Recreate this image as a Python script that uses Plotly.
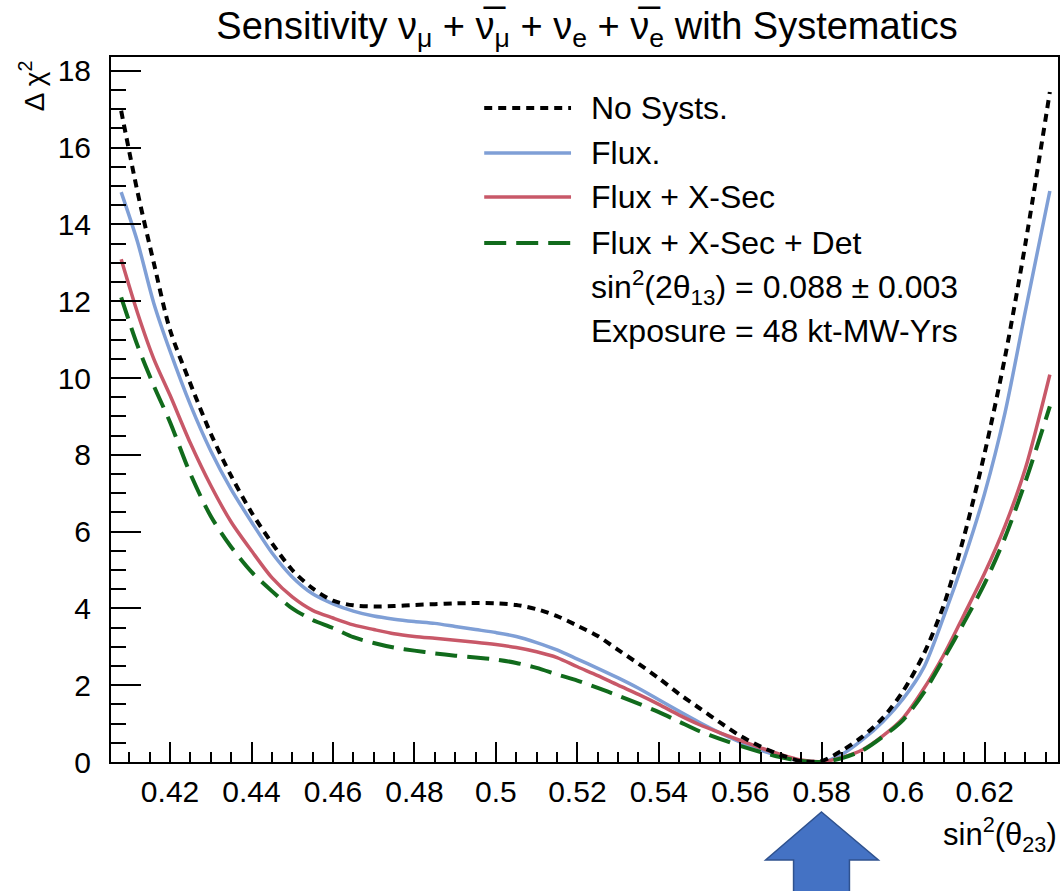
import plotly.graph_objects as go

# ---------------- data ----------------
sin2_theta23 = [0.408, 0.412, 0.416, 0.42, 0.425, 0.43, 0.435, 0.44, 0.445, 0.45,
                0.455, 0.46, 0.465, 0.47, 0.475, 0.48, 0.485, 0.49, 0.495, 0.5,
                0.505, 0.51, 0.515, 0.52, 0.525, 0.53, 0.535, 0.54, 0.545, 0.55,
                0.555, 0.56, 0.565, 0.57, 0.575, 0.58, 0.585, 0.59, 0.595, 0.6,
                0.605, 0.61, 0.615, 0.62, 0.625, 0.63, 0.636]

no_systs = [16.96, 14.85, 13.0, 11.25, 9.85, 8.55, 7.45, 6.5, 5.7, 5.0,
            4.52, 4.2, 4.08, 4.05, 4.06, 4.09, 4.11, 4.13, 4.14, 4.13,
            4.09, 3.98, 3.80, 3.55, 3.28, 2.92, 2.56, 2.18, 1.77, 1.40,
            1.03, 0.68, 0.40, 0.18, 0.02, 0.03, 0.30, 0.66, 1.15, 1.85,
            2.8, 4.1, 5.9, 8.05, 10.55, 13.5, 17.45]

flux = [14.84, 13.55, 11.95, 10.7, 9.3, 8.1, 7.1, 6.25, 5.45, 4.82,
        4.38, 4.12, 3.93, 3.80, 3.72, 3.66, 3.61, 3.53, 3.45, 3.37,
        3.27, 3.11, 2.92, 2.68, 2.44, 2.19, 1.92, 1.62, 1.32, 1.03,
        0.76, 0.52, 0.31, 0.15, 0.04, 0.0, 0.2, 0.58, 1.05, 1.65,
        2.45, 3.80, 5.3, 7.0, 9.1, 11.75, 14.87]

flux_xsec = [13.09, 11.7, 10.5, 9.55, 8.3, 7.2, 6.25, 5.5, 4.8, 4.3,
             3.95, 3.75, 3.57, 3.45, 3.34, 3.27, 3.22, 3.17, 3.12, 3.06,
             2.98, 2.87, 2.72, 2.48, 2.25, 2.0, 1.76, 1.5, 1.22, 0.97,
             0.76, 0.56, 0.37, 0.19, 0.05, 0.01, 0.12, 0.32, 0.68, 1.15,
             1.9, 2.8, 3.85, 4.92, 6.15, 7.65, 10.09]

flux_xsec_det = [12.1, 10.85, 9.8, 8.85, 7.5, 6.4, 5.6, 4.95, 4.45, 4.0,
                 3.7, 3.49, 3.25, 3.1, 2.98, 2.9, 2.83, 2.77, 2.72, 2.67,
                 2.58, 2.45, 2.28, 2.12, 1.93, 1.73, 1.52, 1.3, 1.05, 0.8,
                 0.6, 0.42, 0.26, 0.12, 0.03, 0.0, 0.1, 0.3, 0.66, 1.1,
                 1.8, 2.7, 3.65, 4.65, 5.85, 7.3, 9.26]

series_names = ["No Systs.", "Flux.", "Flux + X-Sec", "Flux + X-Sec + Det"]
extra_text = ["sin<sup>2</sup>(2θ<sub>13</sub>) = 0.088 ± 0.003",
              "Exposure = 48 kt-MW-Yrs"]

# ---------------- styles ----------------
FONT = "Liberation Sans, Arial, Helvetica, sans-serif"
styles = {
    "No Systs.": dict(color="#000000", width=4, dash="8px,6px"),
    "Flux.": dict(color="#7f9fd6", width=3.5, dash="solid"),
    "Flux + X-Sec": dict(color="#c85868", width=3.5, dash="solid"),
    "Flux + X-Sec + Det": dict(color="#116b1c", width=4, dash="22px,10px"),
}
series = {"No Systs.": no_systs, "Flux.": flux, "Flux + X-Sec": flux_xsec,
          "Flux + X-Sec + Det": flux_xsec_det}

W, H = 1063, 891
L, R, T, B = 111, 1060, 57, 762


def pxx(x):
    return (x - L) / (R - L)


def pxy(y):
    return (B - y) / (B - T)


fig = go.Figure()
for name in ["Flux.", "Flux + X-Sec", "Flux + X-Sec + Det", "No Systs."]:
    st = styles[name]
    fig.add_trace(go.Scatter(
        x=sin2_theta23, y=series[name], mode="lines", name=name,
        line=dict(color=st["color"], width=st["width"], dash=st["dash"],
                  shape="spline", smoothing=0.8),
        showlegend=False))

shapes = []
annotations = []

# legend (drawn manually to match ROOT style)
rows_y = [108, 153, 197, 243]
for name, yy in zip(series_names, rows_y):
    st = styles[name]
    shapes.append(dict(type="line", xref="paper", yref="paper",
                       x0=pxx(485), x1=pxx(572), y0=pxy(yy), y1=pxy(yy),
                       line=dict(color=st["color"], width=st["width"], dash=st["dash"])))
    annotations.append(dict(text=name, xref="paper", yref="paper",
                            x=pxx(590), y=pxy(yy), xanchor="left", yanchor="middle",
                            showarrow=False, font=dict(family=FONT, size=32, color="black")))
for txt, yy in zip(extra_text, [287, 331]):
    annotations.append(dict(text=txt, xref="paper", yref="paper",
                            x=pxx(590), y=pxy(yy), xanchor="left", yanchor="middle",
                            showarrow=False, font=dict(family=FONT, size=32, color="black")))

# axis titles
annotations.append(dict(text="Δ χ<sup>2</sup>", xref="paper", yref="paper",
                        x=pxx(32), y=pxy(86), xanchor="center", yanchor="middle",
                        textangle=-90, showarrow=False,
                        font=dict(family=FONT, size=28, color="black")))
annotations.append(dict(text="sin<sup>2</sup>(θ<sub>23</sub>)", xref="paper", yref="paper",
                        x=pxx(1061), y=pxy(834), xanchor="right", yanchor="middle",
                        showarrow=False, font=dict(family=FONT, size=31, color="black")))

# blue arrow below the axis
pts = [(823, 812), (880, 860), (851, 860), (851, 900), (795, 900), (795, 860), (767, 860)]
path = "M " + " L ".join(f"{pxx(a):.5f},{pxy(b):.5f}" for a, b in pts) + " Z"
shapes.append(dict(type="path", xref="paper", yref="paper", path=path,
                   fillcolor="#4472c4", line=dict(color="#2f528f", width=1.5)))

fig.update_layout(
    width=W, height=H,
    margin=dict(l=L, r=W - R, t=T, b=H - B, pad=0),
    paper_bgcolor="white", plot_bgcolor="white",
    title=dict(text="Sensitivity ν<sub>μ</sub> + ν\u0305<sub>μ</sub> + ν<sub>e</sub> + ν\u0305<sub>e</sub> with Systematics",
               x=587 / W, xanchor="center", y=1 - 26 / H, yanchor="middle",
               font=dict(family=FONT, size=38, color="black")),
    shapes=shapes, annotations=annotations,
    showlegend=False,
)

fig.update_xaxes(
    range=[0.4055, 0.638], showgrid=False, zeroline=False,
    showline=True, linecolor="black", linewidth=2, mirror=True,
    tickmode="linear", tick0=0.42, dtick=0.02,
    ticks="inside", ticklen=20, tickwidth=1.5, tickcolor="black",
    minor=dict(ticks="inside", ticklen=10, dtick=0.005, tick0=0.42,
               tickwidth=1.5, tickcolor="black", showgrid=False),
    tickfont=dict(family=FONT, size=30, color="black"),
    ticklabelstandoff=2,
)
fig.update_yaxes(
    range=[0, 18.36], showgrid=False, zeroline=False,
    showline=True, linecolor="black", linewidth=2, mirror=True,
    tickmode="linear", tick0=0, dtick=2,
    ticks="inside", ticklen=30, tickwidth=1.5, tickcolor="black",
    minor=dict(ticks="inside", ticklen=15, dtick=0.5, tick0=0,
               tickwidth=1.5, tickcolor="black", showgrid=False),
    tickfont=dict(family=FONT, size=30, color="black"),
    ticklabelstandoff=12,
)

fig.write_html("out.html")
